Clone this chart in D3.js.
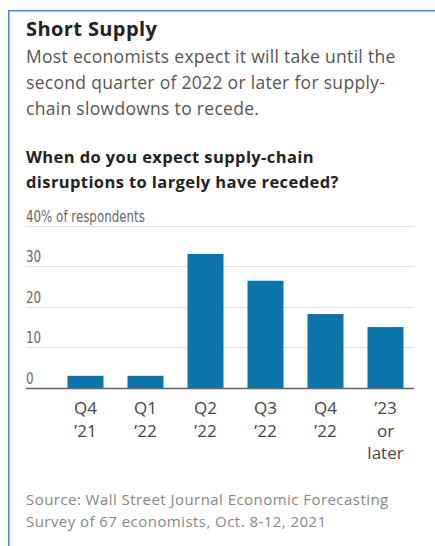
<!DOCTYPE html>
<html>
<head>
<meta charset="utf-8">
<script src="https://cdn.jsdelivr.net/npm/d3@7"></script>
<style>
  body { margin: 0; background: #fff; }
  svg { display: block; }
  .sans { font-family: "Open Sans", "Noto Sans", sans-serif; }
  .cond { font-family: "Liberation Sans Narrow", "DejaVu Sans Condensed", sans-serif; }
</style>
</head>
<body>
<div id="chart"></div>
<script>
// Chart data
let categories = [["Q4", "\u201921"], ["Q1", "\u201922"], ["Q2", "\u201922"], ["Q3", "\u201922"], ["Q4", "\u201922"], ["\u201923", "or", "later"]];
let values = [3, 3, 33, 26.4, 18.2, 15];
let yTicks = [0, 10, 20, 30, 40];

let svgWidth = 435;
let svgHeight = 546;

let svg = d3.select("#chart")
    .append("svg")
    .attr("width", svgWidth)
    .attr("height", svgHeight);

// Blue frame round the graphic
svg.append("rect")
    .attr("x", 8.75)
    .attr("y", 10.75)
    .attr("width", 440)
    .attr("height", 560)
    .attr("fill", "none")
    .attr("stroke", "#4f82d2")
    .attr("stroke-width", 1.5);

// Headline and intro
svg.append("text")
    .attr("class", "sans")
    .attr("x", 26)
    .attr("y", 36)
    .style("font-size", "20px")
    .style("font-weight", "700")
    .style("letter-spacing", "0.4px")
    .style("fill", "#222")
    .text("Short Supply");

let intro = ["Most economists expect it will take until the",
             "second quarter of 2022 or later for supply-",
             "chain slowdowns to recede."];
svg.selectAll(".intro")
    .data(intro)
    .enter()
    .append("text")
    .attr("class", "sans")
    .attr("x", 26)
    .attr("y", (d, i) => 63 + i * 26)
    .style("font-size", "17.5px")
    .style("letter-spacing", "0.3px")
    .style("fill", "#555")
    .text(d => d);

let question = ["When do you expect supply-chain",
                "disruptions to largely have receded?"];
svg.selectAll(".question")
    .data(question)
    .enter()
    .append("text")
    .attr("class", "sans")
    .attr("x", 26)
    .attr("y", (d, i) => 163 + i * 25)
    .style("font-size", "16.5px")
    .style("font-weight", "700")
    .style("letter-spacing", "0.4px")
    .style("fill", "#222")
    .text(d => d);

// Scales
let x = d3.scaleBand()
    .domain(d3.range(categories.length))
    .range([55.5, 415.5])
    .paddingInner(0.4)
    .paddingOuter(0.2);

let y = d3.scaleLinear()
    .domain([0, 40])
    .range([388, 225.5]);

// Gridlines and tick labels
let grid = svg.append("g");
grid.selectAll("line")
    .data(yTicks.filter(d => d > 0))
    .enter()
    .append("line")
    .attr("x1", 26)
    .attr("x2", 414)
    .attr("y1", d => Math.round(y(d)) + 0.5)
    .attr("y2", d => Math.round(y(d)) + 0.5)
    .attr("stroke", "#e3e3e3")
    .attr("stroke-width", 1);

// condensed look: squeeze labels horizontally
grid.selectAll("text")
    .data(yTicks)
    .enter()
    .append("text")
    .attr("class", "cond")
    .attr("transform", d => `translate(26, ${y(d) - 4}) scale(0.88, 1)`)
    .style("font-size", "15px")
    .style("fill", "#666")
    .text(d => d === 40 ? "40% of respondents" : d);

// Bars
svg.selectAll(".bar")
    .data(values)
    .enter()
    .append("rect")
    .attr("class", "bar")
    .attr("x", (d, i) => x(i))
    .attr("y", d => y(d))
    .attr("width", x.bandwidth())
    .attr("height", d => y(0) - y(d))
    .attr("fill", "#0b74ab");

// Baseline
svg.append("line")
    .attr("x1", 26)
    .attr("x2", 414)
    .attr("y1", y(0) + 0.5)
    .attr("y2", y(0) + 0.5)
    .attr("stroke", "#666")
    .attr("stroke-width", 1.5);

// Category labels
let labels = svg.selectAll(".cat")
    .data(categories)
    .enter()
    .append("text")
    .attr("class", "sans")
    .attr("text-anchor", "middle")
    .style("font-size", "17px")
    .style("fill", "#444");

labels.selectAll("tspan")
    .data((d, i) => d.map(t => ({ t: t, i: i })))
    .enter()
    .append("tspan")
    .attr("x", d => x(d.i) + x.bandwidth() / 2)
    .attr("y", (d, j) => 414 + j * 22.5)
    .text(d => d.t);

// Source note
let source = ["Source: Wall Street Journal Economic Forecasting",
              "Survey of 67 economists, Oct. 8-12, 2021"];
svg.selectAll(".source")
    .data(source)
    .enter()
    .append("text")
    .attr("class", "sans")
    .attr("x", 26)
    .attr("y", (d, i) => 505 + i * 21.5)
    .style("font-size", "15px")
    .style("letter-spacing", "0.45px")
    .style("fill", "#888")
    .text(d => d);
</script>
</body>
</html>
